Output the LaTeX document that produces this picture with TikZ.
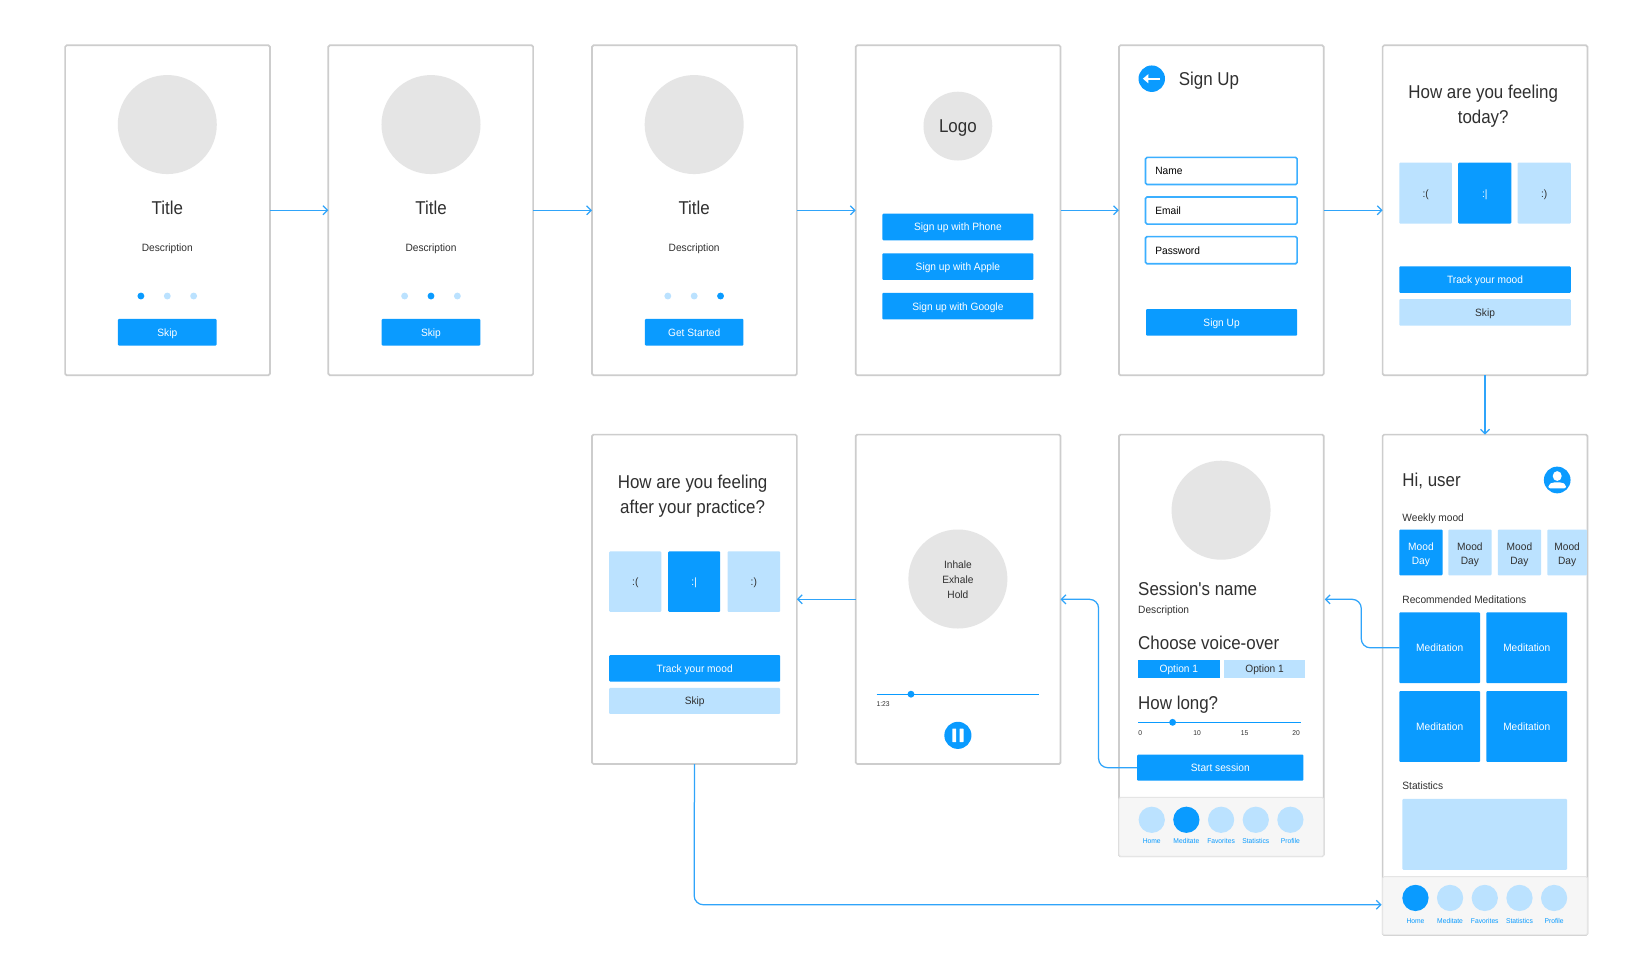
\documentclass[tikz,border=0pt]{standalone}
\usepackage{fontspec}
\setmainfont[FakeStretch=0.96]{Liberation Sans}
\newfontfamily\headfont[FakeStretch=0.91]{Liberation Sans}
\usetikzlibrary{arrows.meta}
\definecolor{uiblue}{HTML}{0A9BFF}
\definecolor{uilight}{HTML}{BBE2FF}
\definecolor{uigray}{HTML}{E5E5E5}
\definecolor{uiedge}{HTML}{CDCDCD}
\definecolor{uinav}{HTML}{F6F6F6}
\definecolor{uitext}{HTML}{303030}
\definecolor{uiline}{HTML}{2FA4FA}
\newcommand{\uibox}[7]{%
  \pgfmathsetmacro\bxcx{(#3+#5)/2}\pgfmathsetmacro\bxcy{(#4+#6)/2}%
  \pgfmathsetmacro\bxw{((#5)-(#3))*1.0423}\pgfmathsetmacro\bxh{((#6)-(#4))*1.0423}%
  \node[#2,minimum width=\bxw pt,minimum height=\bxh pt] (#1) at (\bxcx,\bxcy) {#7};}
\newcommand{\uicirc}[6]{%
  \pgfmathsetmacro\bxw{2*#5*1.0423}%
  \node[circle,#2,minimum size=\bxw pt] (#1) at (#3,#4) {#6};}
\newcommand{\moodday}{\rule{0pt}{12.6pt}Mood\\Day}
\tikzset{
  base/.style={inner sep=0pt,outer sep=0pt},
  card/.style={base,draw=uiedge,line width=1.7pt,fill=white,rounded corners=1.5pt},
  navbar/.style={base,fill=uinav,draw=uigray,line width=1pt,rounded corners=1.5pt},
  fs/.style={font=\fontsize{10.6}{14.6}\selectfont,text height=8.5pt,text depth=0.5pt},
  solidbtn/.style={base,fs,fill=uiblue,text=white,rounded corners=1pt},
  softbtn/.style={base,fs,fill=uilight,text=uitext,rounded corners=1pt},
  inputbox/.style={base,fs,draw=uiblue!80!white,line width=1.6pt,fill=white,rounded corners=1.5pt},
  blob/.style={base,fill=uigray,text=uitext},
  on/.style={base,fill=uiblue},
  off/.style={base,fill=uilight},
  heading/.style={base,text=uitext,font=\headfont\fontsize{18.6}{25}\selectfont,anchor=mid west,yshift=-3.7pt},
  headc/.style={base,text=uitext,font=\headfont\fontsize{18.6}{25}\selectfont,align=center},
  small/.style={base,text=uitext,font=\fontsize{10.6}{14.6}\selectfont,anchor=mid,yshift=-1.4pt},
  smallw/.style={small,anchor=mid west},
  micro/.style={base,text=uitext,font=\fontsize{7}{8}\selectfont,anchor=mid},
  navlabel/.style={base,text=uiblue,font=\fontsize{7}{8}\selectfont,anchor=mid},
  flow/.style={draw=uiline,line width=1.25pt,rounded corners=9pt,-{Straight Barb[length=4.5pt,width=9pt,line width=1.25pt]}},
  track/.style={draw=uiblue,line width=1.2pt},
  tile/.style={text height=,text depth=,align=center},
}
\newcommand{\onboard}[7]{%
  \uibox{#1}{card}{#2}{43.5}{#2+196.5}{360}{}
  \uicirc{#1img}{blob}{#3}{119.5}{47.5}{}
  \node[headc] (#1title) at (#3,199) {Title};
  \node[small] (#1desc) at (#3,237) {Description};
  \uicirc{#1d1}{#5}{#3-25.3}{284}{3.3}{}
  \uicirc{#1d2}{#6}{#3}{284}{3.3}{}
  \uicirc{#1d3}{#7}{#3+25.3}{284}{3.3}{}
  \uibox{#1btn}{solidbtn}{#3-47.3}{306}{#3+47.3}{331.5}{#4}
}
\newcommand{\navrow}[5]{%
  \uicirc{#1a}{#4}{\nx+0}{#2}{12.6}{}
  \uicirc{#1b}{#5}{\nx+33.2}{#2}{12.6}{}
  \uicirc{#1c}{off}{\nx+66.5}{#2}{12.6}{}
  \uicirc{#1d}{off}{\nx+99.8}{#2}{12.6}{}
  \uicirc{#1e}{off}{\nx+133}{#2}{12.6}{}
  \node[navlabel] (#1la) at (\nx+0,#3) {Home};
  \node[navlabel] (#1lb) at (\nx+33.2,#3) {Meditate};
  \node[navlabel] (#1lc) at (\nx+66.5,#3) {Favorites};
  \node[navlabel] (#1ld) at (\nx+99.8,#3) {Statistics};
  \node[navlabel] (#1le) at (\nx+133,#3) {Profile};
}
\begin{document}
\begin{tikzpicture}[x=1.0423pt,y=-1.0423pt]
\useasboundingbox[fill=white] (0,0) rectangle (1560,934.5);
% --- top row ---
\onboard{a}{62.5}{160.5}{Skip}{on}{off}{off}
\onboard{b}{315}{413.5}{Skip}{off}{on}{off}
\onboard{c}{568}{666}{Get Started}{off}{off}{on}
% signup choice
\uibox{d}{card}{821}{43.5}{1017.5}{360}{}
\uicirc{dlogo}{blob,font=\headfont\fontsize{18.6}{22}\selectfont,text height=13.5pt,text depth=0pt}{919}{121}{33}{Logo}
\uibox{dphone}{solidbtn}{846.5}{205}{991.5}{230.5}{Sign up with Phone}
\uibox{dapple}{solidbtn}{846.5}{243}{991.5}{268.5}{Sign up with Apple}
\uibox{dgoogle}{solidbtn}{846.5}{281}{991.5}{306.5}{Sign up with Google}
% sign up
\uibox{e}{card}{1073.5}{43.5}{1270}{360}{}
\uicirc{eback}{on}{1105}{75.5}{12.7}{}
\draw[white,line width=2pt,-{Triangle[length=5.5pt,width=9pt]}] (1113,75.5) -- (1096.5,75.5);
\node[heading] (etitle) at (1131,76) {Sign Up};
\uibox{ename}{inputbox,align=left,text width=132pt}{1099}{151}{1244.5}{177}{Name}
\uibox{eemail}{inputbox,align=left,text width=132pt}{1099}{189}{1244.5}{215}{Email}
\uibox{epass}{inputbox,align=left,text width=132pt}{1099}{227}{1244.5}{253}{Password}
\uibox{ebtn}{solidbtn}{1099.5}{296.5}{1244.5}{322}{Sign Up}
% mood before
\uibox{f}{card}{1326.5}{43.5}{1523}{360}{}
\node[headc,yshift=-1.4pt] (fhead) at (1423,101) {How are you feeling\\today?};
\uibox{fs1}{softbtn}{1342.5}{156}{1393}{214.5}{:(}
\uibox{fs2}{solidbtn}{1399}{156}{1450}{214.5}{:|}
\uibox{fs3}{softbtn}{1456}{156}{1507}{214.5}{:)}
\uibox{ftrack}{solidbtn}{1342.5}{255.5}{1507}{281}{Track your mood}
\uibox{fskip}{softbtn}{1342.5}{287}{1507}{312.5}{Skip}
% --- bottom row ---
% mood after
\uibox{g}{card}{568}{417}{764.5}{733}{}
\node[headc,yshift=-2pt] (ghead) at (664.5,474) {How are you feeling\\after your practice?};
\uibox{gs1}{softbtn}{584.5}{529}{634.5}{587}{:(}
\uibox{gs2}{solidbtn}{641}{529}{691}{587}{:|}
\uibox{gs3}{softbtn}{698}{529}{748.5}{587}{:)}
\uibox{gtrack}{solidbtn}{584.5}{628.5}{748.5}{654}{Track your mood}
\uibox{gskip}{softbtn}{584.5}{660}{748.5}{685}{Skip}
% breathing
\uibox{h}{card}{821}{417}{1017.5}{733}{}
\uicirc{hcirc}{blob}{919}{555.5}{47.5}{}
\node[small] (hin) at (919,542) {Inhale};
\node[small] (hex) at (919,556) {Exhale};
\node[small] (hho) at (919,570) {Hold};
\coordinate (hs0) at (841,666);
\coordinate (hs1) at (997,666);
\draw[track] (hs0) -- (hs1);
\uicirc{hknob}{on}{874}{666}{3.3}{}
\node[micro,anchor=mid west] (htime) at (841,675) {1:23};
\uicirc{hpause}{on}{919}{705.5}{13}{}
\fill[white,rounded corners=.5pt] (913.6,699) rectangle (917.4,712);
\fill[white,rounded corners=.5pt] (920.6,699) rectangle (924.4,712);
% session
\uibox{s}{card}{1073.5}{417}{1270}{821.5}{}
\uibox{snav}{navbar}{1073.5}{765}{1270}{821.5}{}
\uicirc{simg}{blob}{1171.5}{489.5}{47.5}{}
\node[heading] (sname) at (1092,565) {Session's name};
\node[smallw] (sdesc) at (1092,585) {Description};
\node[heading] (svoice) at (1092,617) {Choose voice-over};
\uibox{sopt1}{solidbtn,rounded corners=0pt}{1092}{633}{1170}{650}{Option 1}
\uibox{sopt2}{softbtn,rounded corners=0pt}{1174.5}{633}{1252}{650}{Option 1}
\node[heading] (slong) at (1092,675) {How long?};
\coordinate (ss0) at (1092,693);
\coordinate (ss1) at (1248,693);
\draw[track] (ss0) -- (ss1);
\uicirc{sknob}{on}{1125}{693}{3.3}{}
\node[micro] (st0) at (1094,703.5) {0};
\node[micro] (st1) at (1148.5,703.5) {10};
\node[micro] (st2) at (1194,703.5) {15};
\node[micro] (st3) at (1243.5,703.5) {20};
\uibox{sstart}{solidbtn}{1091}{724}{1250.5}{749}{Start session}
\def\nx{1105}
\navrow{sn}{786.5}{806.5}{off}{on}
% home
\uibox{m}{card}{1326.5}{417}{1523}{897}{}
\uibox{mnav}{navbar}{1326.5}{841}{1523}{897}{}
\node[heading] (mhi) at (1345.5,461) {Hi, user};
\uicirc{muser}{on}{1494}{460.5}{12.8}{}
\fill[white] (1494,456.7) ellipse [x radius=4.3,y radius=4.7];
\fill[white,rounded corners=2pt] (1485.5,468.5) -- (1485.5,465) -- (1490,462.7) -- (1498,462.7) -- (1502.5,465) -- (1502.5,468.5) -- cycle;
\node[smallw] (mweek) at (1345.5,496) {Weekly mood};
\uibox{mm1}{solidbtn,tile}{1342.5}{508}{1384}{552}{\moodday}
\uibox{mm2}{softbtn,tile}{1389.5}{508}{1431}{552}{\moodday}
\uibox{mm3}{softbtn,tile}{1437}{508}{1478.5}{552}{\moodday}
\uibox{mm4}{softbtn,tile}{1484.5}{508}{1522.5}{552}{\moodday}
\node[smallw] (mrec) at (1345.5,575) {Recommended Meditations};
\uibox{mr1}{solidbtn}{1342.5}{587.5}{1420}{655.5}{Meditation}
\uibox{mr2}{solidbtn}{1426}{587.5}{1503.5}{655.5}{Meditation}
\uibox{mr3}{solidbtn}{1342.5}{663}{1420}{731}{Meditation}
\uibox{mr4}{solidbtn}{1426}{663}{1503.5}{731}{Meditation}
\node[smallw] (mstat) at (1345.5,754) {Statistics};
\uibox{mgraph}{softbtn}{1345.5}{766.5}{1503.5}{834.5}{}
\def\nx{1358}
\navrow{mn}{861.5}{883}{on}{off}
% --- connectors ---
\coordinate (sin) at (1270.9,575);
\coordinate (sbend) at (1306,575);
\coordinate (hbend) at (1054,575);
\coordinate (gdown) at (666,868);
\coordinate (min) at (1325.6,868);
\draw[flow] (a.east) -- (b.west);
\draw[flow] (b.east) -- (c.west);
\draw[flow] (c.east) -- (d.west);
\draw[flow] (d.east) -- (e.west);
\draw[flow] (e.east) -- (f.west);
\draw[flow] (f.south) -- (m.north);
\draw[flow] (mr1.west) -| (sbend) -- (sin);
\draw[flow] (sstart.west) -| (hbend) -- (h.east);
\draw[flow] (h.west) -- (g.east);
\draw[flow] (g.south) -- (gdown) -- (min);
\end{tikzpicture}
\end{document}
